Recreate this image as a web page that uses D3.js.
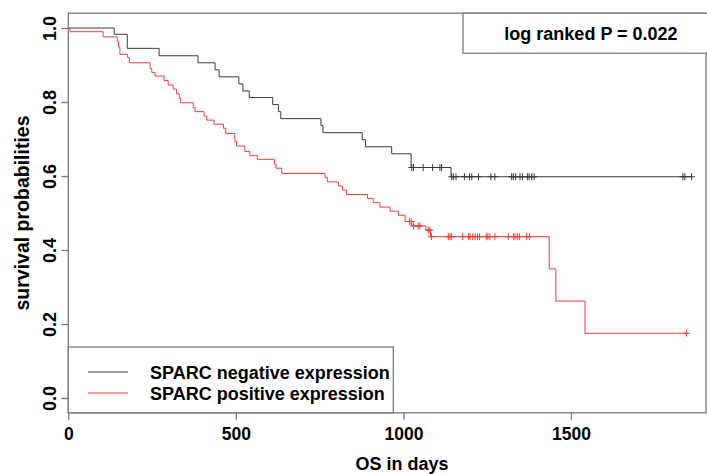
<!DOCTYPE html>
<html><head><meta charset="utf-8">
<script src="https://cdn.jsdelivr.net/npm/d3@7"></script>
<style>body{margin:0;background:#fff}svg{display:block}text{font-family:"Liberation Sans",Arial,sans-serif;font-weight:bold;fill:#000}</style>
</head><body><svg id="c" width="707" height="474"></svg>
<script>
const groups = ["SPARC negative expression", "SPARC positive expression"];
const colors = ["#3a3a3a", "#f23b3b"];
// event times (days) and survival after each event
const negTimes = [137,176,271,387,438,450,509,521,540,610,627,634,754,760,877,887,965,1023,1142];
const negSurv  = [0.983,0.945,0.925,0.906,0.887,0.868,0.849,0.830,0.812,0.793,0.774,0.755,0.736,0.717,0.698,0.679,0.660,0.623,0.598];
const negCensor = [1025,1030,1059,1087,1109,1114,1144,1149,1157,1182,1197,1204,1224,1261,1273,1323,1328,1335,1348,1355,1370,1375,1383,1390,1834,1840,1860];
const negEnd = 1860;
const posTimes = [5,104,146,150,154,177,182,244,249,259,286,298,313,323,331,335,373,378,405,413,435,463,470,497,502,527,542,564,615,620,637,766,773,806,818,830,893,910,930,960,985,1005,1025,1067,1081,1435,1455,1542];
const posSurv  = [0.990,0.976,0.963,0.949,0.929,0.920,0.906,0.891,0.880,0.870,0.858,0.846,0.835,0.822,0.810,0.798,0.785,0.774,0.762,0.751,0.740,0.729,0.715,0.693,0.681,0.666,0.655,0.645,0.632,0.621,0.607,0.596,0.584,0.573,0.562,0.550,0.539,0.528,0.516,0.505,0.494,0.477,0.465,0.454,0.436,0.349,0.262,0.175];
const posCensor = [1018,1023,1030,1044,1049,1074,1079,1084,1134,1139,1144,1177,1194,1199,1207,1214,1221,1227,1247,1252,1258,1273,1313,1328,1333,1340,1346,1368,1376,1845];
const posEnd = 1845;
const xTicks = [0,500,1000,1500];
const yTicks = [0,0.2,0.4,0.6,0.8,1.0];
const pText = "log ranked P = 0.022";

const svg = d3.select("#c");
const x = d3.scaleLinear().domain([0,1903]).range([68.3,706]);
const y = d3.scaleLinear().domain([-0.04,1.04]).range([412.8,13.2]);
const axisCol = "#7a7a7a";

function survAt(times, surv, t){ let s=1; for(let i=0;i<times.length;i++){ if(times[i]<=t) s=surv[i]; } return s; }

const data = [
  {times:negTimes, surv:negSurv, cens:negCensor, end:negEnd},
  {times:posTimes, surv:posSurv, cens:posCensor, end:posEnd}
];
const line = d3.line().x(d=>x(d[0])).y(d=>y(d[1])).curve(d3.curveStepAfter);

data.forEach((g,i)=>{
  const pts=[[0,1]];
  g.times.forEach((t,j)=>pts.push([t,g.surv[j]]));
  pts.push([g.end, g.surv[g.surv.length-1]]);
  svg.append("path").attr("d",line(pts)).attr("fill","none").attr("stroke",colors[i]).attr("stroke-width",1);
  const cg = svg.append("g").attr("stroke",colors[i]).attr("stroke-width",1);
  g.cens.forEach(t=>{
    const cx=x(t), cy=y(survAt(g.times,g.surv,t));
    cg.append("line").attr("x1",cx).attr("x2",cx).attr("y1",cy-3.5).attr("y2",cy+3.5);
    cg.append("line").attr("x1",cx-3.5).attr("x2",cx+3.5).attr("y1",cy).attr("y2",cy);
  });
});

// box
svg.append("rect").attr("x",x(0)).attr("y",y(1.04)).attr("width",x(1903)-x(0)).attr("height",y(-0.04)-y(1.04))
  .attr("fill","none").attr("stroke",axisCol).attr("stroke-width",1.3);

// axes
const ya = svg.append("g").attr("transform",`translate(${x(0)},0)`)
  .call(d3.axisLeft(y).tickValues(yTicks).tickSize(7).tickFormat(d3.format(".1f")));
ya.select(".domain").remove();
ya.selectAll("line").attr("stroke",axisCol).attr("stroke-width",1.3);
ya.selectAll("text").attr("x",0).attr("y",0).attr("dy",null).attr("text-anchor","middle")
  .attr("transform","translate(-12,0) rotate(-90)").style("font-size","18px").style("font-family",null);

const xa = svg.append("g").attr("transform",`translate(0,${y(-0.04)})`)
  .call(d3.axisBottom(x).tickValues(xTicks).tickSize(7).tickFormat(d3.format("d")));
xa.select(".domain").remove();
xa.selectAll("line").attr("stroke",axisCol).attr("stroke-width",1.3);
xa.selectAll("text").attr("y",27).attr("dy",null).style("font-size","17.5px").style("font-family",null);

svg.append("text").attr("text-anchor","middle").attr("transform",`translate(29,${(y(1.04)+y(-0.04))/2}) rotate(-90)`)
  .style("font-size","19.5px").text("survival probabilities");
svg.append("text").attr("text-anchor","middle").attr("x",402).attr("y",470)
  .style("font-size","18px").text("OS in days");

// p-value box
svg.append("rect").attr("x",463).attr("y",y(1.04)).attr("width",250).attr("height",40)
  .attr("fill","#fff").attr("stroke",axisCol).attr("stroke-width",1.3);
svg.append("text").attr("x",591).attr("y",40).attr("text-anchor","middle").style("font-size","18px").text(pText);

// legend
svg.append("rect").attr("x",x(0)).attr("y",347).attr("width",325).attr("height",y(-0.04)-347)
  .attr("fill","#fff").attr("stroke",axisCol).attr("stroke-width",1.3);
groups.forEach((gname,i)=>{
  const ly = 372 + i*21;
  svg.append("line").attr("x1",88).attr("x2",128).attr("y1",ly).attr("y2",ly).attr("stroke",colors[i]).attr("stroke-width",1);
  svg.append("text").attr("x",150).attr("y",ly+6.5).style("font-size","18px").text(gname);
});
</script></body></html>
